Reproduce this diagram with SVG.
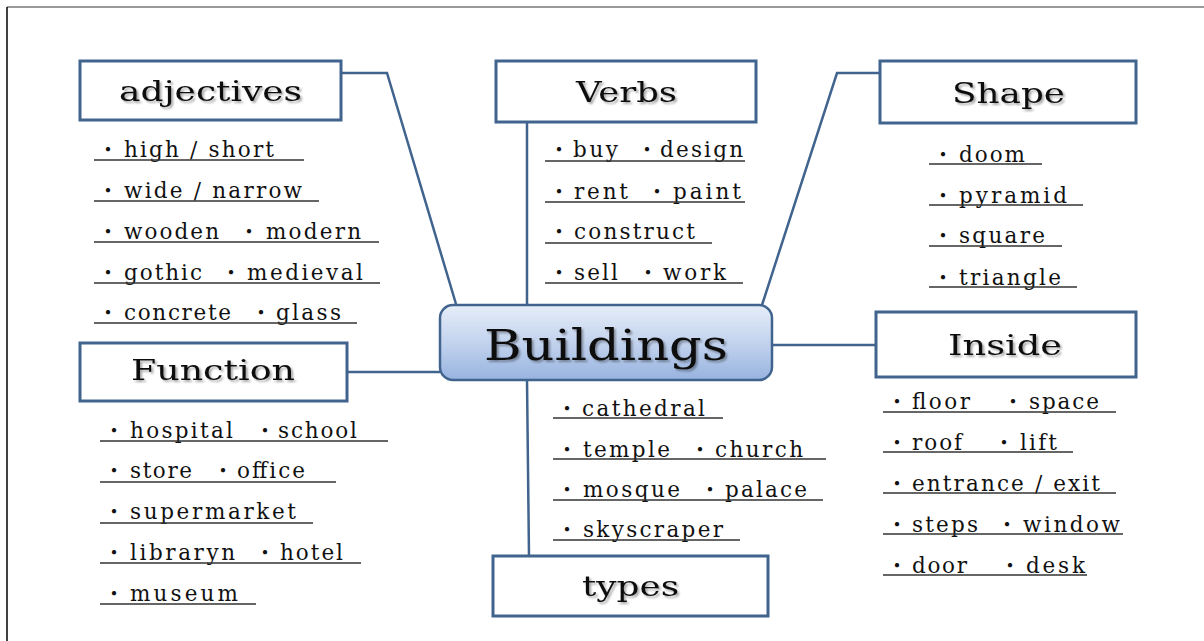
<svg xmlns="http://www.w3.org/2000/svg" width="1204" height="641" viewBox="0 0 1204 641">
<defs>
<linearGradient id="cg" x1="0" y1="0" x2="0" y2="1">
<stop offset="0" stop-color="#e6edf8"/>
<stop offset="0.5" stop-color="#c3d3ee"/>
<stop offset="1" stop-color="#97b3df"/>
</linearGradient>
<filter id="sh" x="-5%" y="-20%" width="110%" height="140%">
<feGaussianBlur in="SourceAlpha" stdDeviation="1.2"/>
<feOffset dx="1.5" dy="1.5" result="b"/>
<feComponentTransfer><feFuncA type="linear" slope="0.35"/></feComponentTransfer>
<feMerge><feMergeNode/><feMergeNode in="SourceGraphic"/></feMerge>
</filter>
<style>
.box{fill:#fff;stroke:#41648f;stroke-width:3}
.t{font-family:"DejaVu Serif","Liberation Serif",serif;font-size:28px;fill:#111}
.it{font-family:"DejaVu Serif","Noto Sans CJK JP",serif;font-size:21.5px;fill:#111}
.d{font-family:"Noto Sans CJK JP",sans-serif;font-size:20px}
.ul{stroke:#333;stroke-width:1.3}
.c{fill:none;stroke:#41648f;stroke-width:2.5}
</style>
</defs>
<rect width="1204" height="641" fill="#fff"/>
<line x1="7" y1="7" x2="1204" y2="7" stroke="#999" stroke-width="2"/>
<line x1="7" y1="7" x2="7" y2="641" stroke="#111" stroke-width="1.6"/>

<g id="connectors">
<polyline class="c" points="341,73 387,73 456,304"/>
<polyline class="c" points="527,122 527,305"/>
<polyline class="c" points="880,73 837,73 762,305"/>
<polyline class="c" points="772,345 876,345"/>
<polyline class="c" points="347,372 440,372"/>
<polyline class="c" points="527,380 529,556"/>
</g>

<g id="buildings">
<rect x="440" y="305" width="332" height="75" rx="13" fill="url(#cg)" stroke="#41648f" stroke-width="2.5"/>
<text x="484" y="360" font-family="DejaVu Serif,Liberation Serif,serif" font-size="42" fill="#111" textLength="244" lengthAdjust="spacingAndGlyphs" filter="url(#sh)">Buildings</text>
</g>

<g id="adjectives">
<rect class="box" x="80" y="61" width="261" height="59"/>
<text class="t" x="119" y="101" textLength="183" lengthAdjust="spacingAndGlyphs" filter="url(#sh)">adjectives</text>
<text class="it" y="157"><tspan class="d" x="98">・</tspan><tspan x="124" textLength="150" lengthAdjust="spacing">high / short</tspan></text>
<line class="ul" x1="94" y1="160" x2="304" y2="160"/>
<text class="it" y="198"><tspan class="d" x="98">・</tspan><tspan x="124" textLength="178" lengthAdjust="spacing">wide / narrow</tspan></text>
<line class="ul" x1="94" y1="201" x2="319" y2="201"/>
<text class="it" y="239"><tspan class="d" x="98">・</tspan><tspan x="124" textLength="95" lengthAdjust="spacing">wooden</tspan><tspan class="d" x="239">・</tspan><tspan x="266" textLength="95" lengthAdjust="spacing">modern</tspan></text>
<line class="ul" x1="94" y1="242" x2="379" y2="242"/>
<text class="it" y="280"><tspan class="d" x="98">・</tspan><tspan x="124" textLength="78" lengthAdjust="spacing">gothic</tspan><tspan class="d" x="221">・</tspan><tspan x="247" textLength="116" lengthAdjust="spacing">medieval</tspan></text>
<line class="ul" x1="94" y1="283" x2="380" y2="283"/>
<text class="it" y="320"><tspan class="d" x="98">・</tspan><tspan x="124" textLength="107" lengthAdjust="spacing">concrete</tspan><tspan class="d" x="251">・</tspan><tspan x="276" textLength="65" lengthAdjust="spacing">glass</tspan></text>
<line class="ul" x1="94" y1="323" x2="357" y2="323"/>
</g>

<g id="verbs">
<rect class="box" x="496" y="61" width="260" height="61"/>
<text class="t" x="576" y="102" textLength="101" lengthAdjust="spacingAndGlyphs" filter="url(#sh)">Verbs</text>
<text class="it" y="157"><tspan class="d" x="549">・</tspan><tspan x="573" textLength="45" lengthAdjust="spacing">buy</tspan><tspan class="d" x="637">・</tspan><tspan x="660" textLength="83" lengthAdjust="spacing">design</tspan></text>
<line class="ul" x1="545" y1="161" x2="745" y2="161"/>
<text class="it" y="199"><tspan class="d" x="549">・</tspan><tspan x="574" textLength="54" lengthAdjust="spacing">rent</tspan><tspan class="d" x="647">・</tspan><tspan x="673" textLength="68" lengthAdjust="spacing">paint</tspan></text>
<line class="ul" x1="545" y1="202" x2="745" y2="202"/>
<text class="it" y="239"><tspan class="d" x="549">・</tspan><tspan x="574" textLength="121" lengthAdjust="spacing">construct</tspan></text>
<line class="ul" x1="545" y1="243" x2="712" y2="243"/>
<text class="it" y="280"><tspan class="d" x="549">・</tspan><tspan x="574" textLength="44" lengthAdjust="spacing">sell</tspan><tspan class="d" x="638">・</tspan><tspan x="663" textLength="63" lengthAdjust="spacing">work</tspan></text>
<line class="ul" x1="545" y1="283" x2="743" y2="283"/>
</g>

<g id="shape">
<rect class="box" x="880" y="61" width="256" height="62"/>
<text class="t" x="952" y="103" textLength="113" lengthAdjust="spacingAndGlyphs" filter="url(#sh)">Shape</text>
<text class="it" y="162"><tspan class="d" x="933">・</tspan><tspan x="959" textLength="66" lengthAdjust="spacing">doom</tspan></text>
<line class="ul" x1="929" y1="164" x2="1042" y2="164"/>
<text class="it" y="203"><tspan class="d" x="933">・</tspan><tspan x="959" textLength="108" lengthAdjust="spacing">pyramid</tspan></text>
<line class="ul" x1="929" y1="205" x2="1083" y2="205"/>
<text class="it" y="243"><tspan class="d" x="933">・</tspan><tspan x="959" textLength="86" lengthAdjust="spacing">square</tspan></text>
<line class="ul" x1="929" y1="246" x2="1062" y2="246"/>
<text class="it" y="285"><tspan class="d" x="933">・</tspan><tspan x="959" textLength="102" lengthAdjust="spacing">triangle</tspan></text>
<line class="ul" x1="929" y1="287" x2="1077" y2="287"/>
</g>

<g id="inside">
<rect class="box" x="876" y="312" width="260" height="65"/>
<text class="t" x="948" y="355" textLength="114" lengthAdjust="spacingAndGlyphs" filter="url(#sh)">Inside</text>
<text class="it" y="409"><tspan class="d" x="887">・</tspan><tspan x="912" textLength="58" lengthAdjust="spacing">floor</tspan><tspan class="d" x="1003">・</tspan><tspan x="1029" textLength="70" lengthAdjust="spacing">space</tspan></text>
<line class="ul" x1="883" y1="412" x2="1116" y2="412"/>
<text class="it" y="450"><tspan class="d" x="887">・</tspan><tspan x="912" textLength="50" lengthAdjust="spacing">roof</tspan><tspan class="d" x="994">・</tspan><tspan x="1020" textLength="37" lengthAdjust="spacing">lift</tspan></text>
<line class="ul" x1="883" y1="452" x2="1073" y2="452"/>
<text class="it" y="491"><tspan class="d" x="887">・</tspan><tspan x="912" textLength="188" lengthAdjust="spacing">entrance / exit</tspan></text>
<line class="ul" x1="883" y1="493" x2="1116" y2="493"/>
<text class="it" y="532"><tspan class="d" x="887">・</tspan><tspan x="912" textLength="66" lengthAdjust="spacing">steps</tspan><tspan class="d" x="997">・</tspan><tspan x="1023" textLength="97" lengthAdjust="spacing">window</tspan></text>
<line class="ul" x1="883" y1="534" x2="1123" y2="534"/>
<text class="it" y="573"><tspan class="d" x="887">・</tspan><tspan x="912" textLength="55" lengthAdjust="spacing">door</tspan><tspan class="d" x="1000">・</tspan><tspan x="1026" textLength="59" lengthAdjust="spacing">desk</tspan></text>
<line class="ul" x1="883" y1="575" x2="1087" y2="575"/>
</g>

<g id="function">
<rect class="box" x="80" y="343" width="267" height="58"/>
<text class="t" x="131" y="380" textLength="164" lengthAdjust="spacingAndGlyphs" filter="url(#sh)">Function</text>
<text class="it" y="438"><tspan class="d" x="104">・</tspan><tspan x="130" textLength="103" lengthAdjust="spacing">hospital</tspan><tspan class="d" x="255">・</tspan><tspan x="278" textLength="79" lengthAdjust="spacing">school</tspan></text>
<line class="ul" x1="100" y1="441" x2="388" y2="441"/>
<text class="it" y="478"><tspan class="d" x="104">・</tspan><tspan x="130" textLength="62" lengthAdjust="spacing">store</tspan><tspan class="d" x="213">・</tspan><tspan x="237" textLength="68" lengthAdjust="spacing">office</tspan></text>
<line class="ul" x1="100" y1="482" x2="336" y2="482"/>
<text class="it" y="519"><tspan class="d" x="104">・</tspan><tspan x="130" textLength="166" lengthAdjust="spacing">supermarket</tspan></text>
<line class="ul" x1="100" y1="523" x2="313" y2="523"/>
<text class="it" y="560"><tspan class="d" x="104">・</tspan><tspan x="130" textLength="105" lengthAdjust="spacing">libraryn</tspan><tspan class="d" x="255">・</tspan><tspan x="280" textLength="63" lengthAdjust="spacing">hotel</tspan></text>
<line class="ul" x1="100" y1="563" x2="361" y2="563"/>
<text class="it" y="601"><tspan class="d" x="104">・</tspan><tspan x="130" textLength="108" lengthAdjust="spacing">museum</tspan></text>
<line class="ul" x1="100" y1="604" x2="256" y2="604"/>
</g>

<g id="types">
<rect class="box" x="493" y="556" width="275" height="60"/>
<text class="t" x="582" y="596" textLength="97" lengthAdjust="spacingAndGlyphs" filter="url(#sh)">types</text>
<text class="it" y="416"><tspan class="d" x="557">・</tspan><tspan x="582" textLength="123" lengthAdjust="spacing">cathedral</tspan></text>
<line class="ul" x1="553" y1="418" x2="723" y2="418"/>
<text class="it" y="457"><tspan class="d" x="557">・</tspan><tspan x="583" textLength="87" lengthAdjust="spacing">temple</tspan><tspan class="d" x="690">・</tspan><tspan x="715" textLength="88" lengthAdjust="spacing">church</tspan></text>
<line class="ul" x1="553" y1="459" x2="826" y2="459"/>
<text class="it" y="497"><tspan class="d" x="557">・</tspan><tspan x="583" textLength="97" lengthAdjust="spacing">mosque</tspan><tspan class="d" x="700">・</tspan><tspan x="725" textLength="82" lengthAdjust="spacing">palace</tspan></text>
<line class="ul" x1="553" y1="500" x2="823" y2="500"/>
<text class="it" y="537"><tspan class="d" x="557">・</tspan><tspan x="583" textLength="140" lengthAdjust="spacing">skyscraper</tspan></text>
<line class="ul" x1="553" y1="540" x2="740" y2="540"/>
</g>
</svg>
